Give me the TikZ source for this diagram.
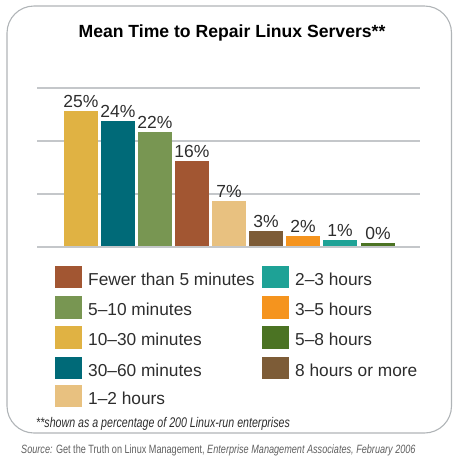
\documentclass[tikz,border=0pt]{standalone}
\usepackage{fontspec}
\setmainfont{Liberation Sans}
\newfontfamily\condfont[FakeStretch=0.76]{Liberation Sans}
\definecolor{cGold}{RGB}{224,178,67}
\definecolor{cDarkTeal}{RGB}{0,106,120}
\definecolor{cSage}{RGB}{120,150,82}
\definecolor{cRust}{RGB}{162,86,50}
\definecolor{cTan}{RGB}{232,193,128}
\definecolor{cBrown}{RGB}{125,92,55}
\definecolor{cOrange}{RGB}{245,148,30}
\definecolor{cTeal}{RGB}{30,162,150}
\definecolor{cDkGreen}{RGB}{75,115,35}
\definecolor{cGrid}{RGB}{196,199,202}
\definecolor{cFrame}{RGB}{176,180,183}
\definecolor{cText}{RGB}{45,45,45}
\definecolor{cSource}{RGB}{95,95,95}
\tikzset{
  frame/.style={draw=cFrame, line width=1.1pt, rounded corners=27pt},
  gridline/.style={draw=cGrid, line width=1.6pt},
  pct/.style={anchor=south, inner sep=0pt, text=cText, font=\fontsize{17.5}{20}\selectfont},
  legtext/.style={anchor=base west, inner sep=0pt, text=cText, font=\fontsize{17.3}{20}\selectfont},
  swatch/.style={fill=#1, draw=none}
}
\begin{document}
\begin{tikzpicture}[x=1pt,y=-1pt]
\useasboundingbox (0,0) rectangle (453,456);
% outer rounded frame
\draw[frame] (7,6) rectangle (451.5,433);
% title
\node[anchor=base, inner sep=0pt, text=black, font=\bfseries\fontsize{17.6}{20}\selectfont] (title) at (232,37.5) {Mean Time to Repair Linux Servers**};
% horizontal grid lines
\foreach \gy in {88,141,194,247}
  \draw[gridline] (37,\gy) -- (420,\gy);
% bars with their value labels
\foreach \bx/\btop/\bcol/\blab [count=\i] in {
  64/111/cGold/25\%, 101/121/cDarkTeal/24\%, 138/132/cSage/22\%,
  175/161/cRust/16\%, 212/201/cTan/7\%, 249/231/cBrown/3\%,
  286/236/cOrange/2\%, 323/240/cTeal/1\%, 361/243/cDkGreen/0\%}
{
  \fill[\bcol] (\bx,\btop) rectangle ({\bx+34},246.3);
  \node[pct] (lab\i) at ({\bx+17},{\btop-3}) {\blab};
}
% legend, first column
\foreach \ly/\lcol/\ltext [count=\i] in {
  277/cRust/Fewer than 5 minutes, 307.5/cSage/5--10 minutes,
  337.5/cGold/10--30 minutes, 368/cDarkTeal/30--60 minutes,
  396/cTan/1--2 hours}
{
  \fill[swatch=\lcol] (55,{\ly-11.3}) rectangle (82,{\ly+11.3});
  \node[legtext] (legA\i) at (88,{\ly+8.4}) {\ltext};
}
% legend, second column
\foreach \ly/\lcol/\ltext [count=\i] in {
  277/cTeal/2--3 hours, 307.5/cOrange/3--5 hours,
  337.5/cDkGreen/5--8 hours, 368/cBrown/8 hours or more}
{
  \fill[swatch=\lcol] (262,{\ly-11.3}) rectangle (289,{\ly+11.3});
  \node[legtext] (legB\i) at (295,{\ly+8.4}) {\ltext};
}
% footnote and source line
\node[anchor=base west, inner sep=0pt, text=cText, font=\condfont\itshape\fontsize{14}{16}\selectfont] (foot) at (36,427) {**shown as a percentage of 200 Linux-run enterprises};
\node[anchor=base west, inner sep=0pt, text=cSource, font=\condfont\fontsize{12}{14}\selectfont] (src) at (21,453) {\textit{Source:} Get the Truth on Linux Management, \textit{Enterprise Management Associates, February 2006}};
\end{tikzpicture}
\end{document}
